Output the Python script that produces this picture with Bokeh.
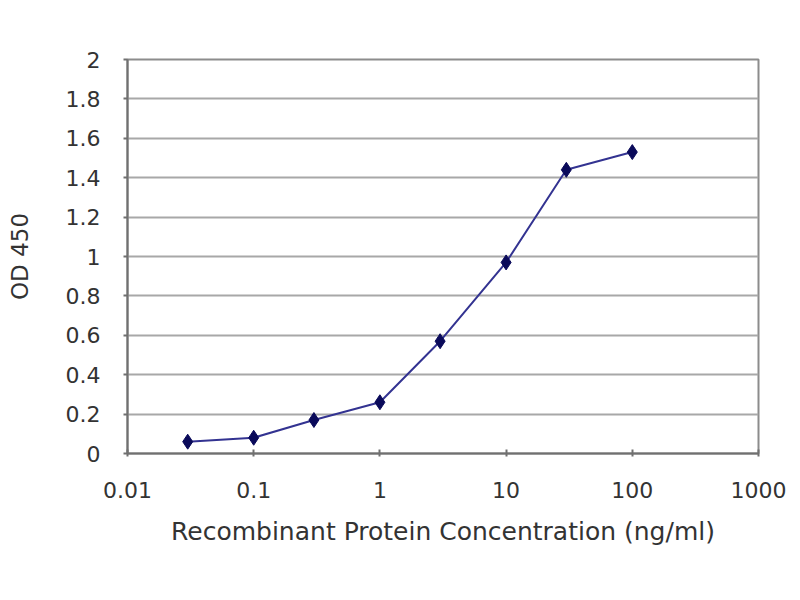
from bokeh.plotting import figure
from bokeh.models import FixedTicker
from bokeh.embed import file_html
from bokeh.resources import INLINE

conc = [0.03, 0.1, 0.3, 1, 3, 10, 30, 100]
od450 = [0.06, 0.08, 0.17, 0.26, 0.57, 0.97, 1.44, 1.53]
x_ticks = [0.01, 0.1, 1, 10, 100, 1000]
x_tick_labels = ["0.01", "0.1", "1", "10", "100", "1000"]
y_ticks = [0, 0.2, 0.4, 0.6, 0.8, 1.0, 1.2, 1.4, 1.6, 1.8, 2.0]
y_tick_labels = ["0", "0.2", "0.4", "0.6", "0.8", "1", "1.2", "1.4", "1.6", "1.8", "2"]

FONT = "DejaVu Sans"

p = figure(width=792, height=590, x_axis_type="log", x_range=(0.01, 1000), y_range=(0, 2),
           output_backend="svg", toolbar_location=None,
           min_border_left=127, min_border_right=34, min_border_top=59, min_border_bottom=137)
p.outline_line_color = "#8c8c8c"
p.outline_line_width = 2
p.background_fill_color = "white"

p.xgrid.grid_line_color = None
p.ygrid.grid_line_color = "#a8a8a8"
p.ygrid.grid_line_width = 2

p.xaxis.ticker = FixedTicker(ticks=x_ticks, minor_ticks=[])
p.xaxis.major_label_overrides = {t: l for t, l in zip(x_ticks, x_tick_labels)}
p.yaxis.ticker = FixedTicker(ticks=y_ticks, minor_ticks=[])
p.yaxis.major_label_overrides = {t: l for t, l in zip(y_ticks, y_tick_labels)}

for ax in (p.xaxis, p.yaxis):
    ax.axis_line_color = "#707070"
    ax.axis_line_width = 2
    ax.major_tick_line_color = "#707070"
    ax.major_tick_line_width = 2
    ax.minor_tick_line_color = None
    ax.major_label_text_font = FONT
    ax.major_label_text_font_size = "22px"
    ax.major_label_text_color = "#333333"
    ax.axis_label_text_font = FONT
    ax.axis_label_text_font_style = "normal"
    ax.axis_label_text_color = "#333333"

p.xaxis.major_tick_in = 4
p.xaxis.major_tick_out = 3
p.xaxis.major_label_standoff = 25
p.xaxis.axis_label = "Recombinant Protein Concentration (ng/ml)"
p.xaxis.axis_label_text_font_size = "25px"
p.xaxis.axis_label_standoff = 16

p.yaxis.major_tick_in = 0
p.yaxis.major_tick_out = 4
p.yaxis.major_label_standoff = 23
p.yaxis.axis_label = "OD 450"
p.yaxis.axis_label_text_font_size = "23px"
p.yaxis.axis_label_standoff = 30

p.line(conc, od450, line_color="#333391", line_width=2)
p.scatter(conc, od450, marker="diamond", size=15, fill_color="#0a0a5a", line_color="#0a0a5a")

open("out.html", "w").write(file_html(p, INLINE))
